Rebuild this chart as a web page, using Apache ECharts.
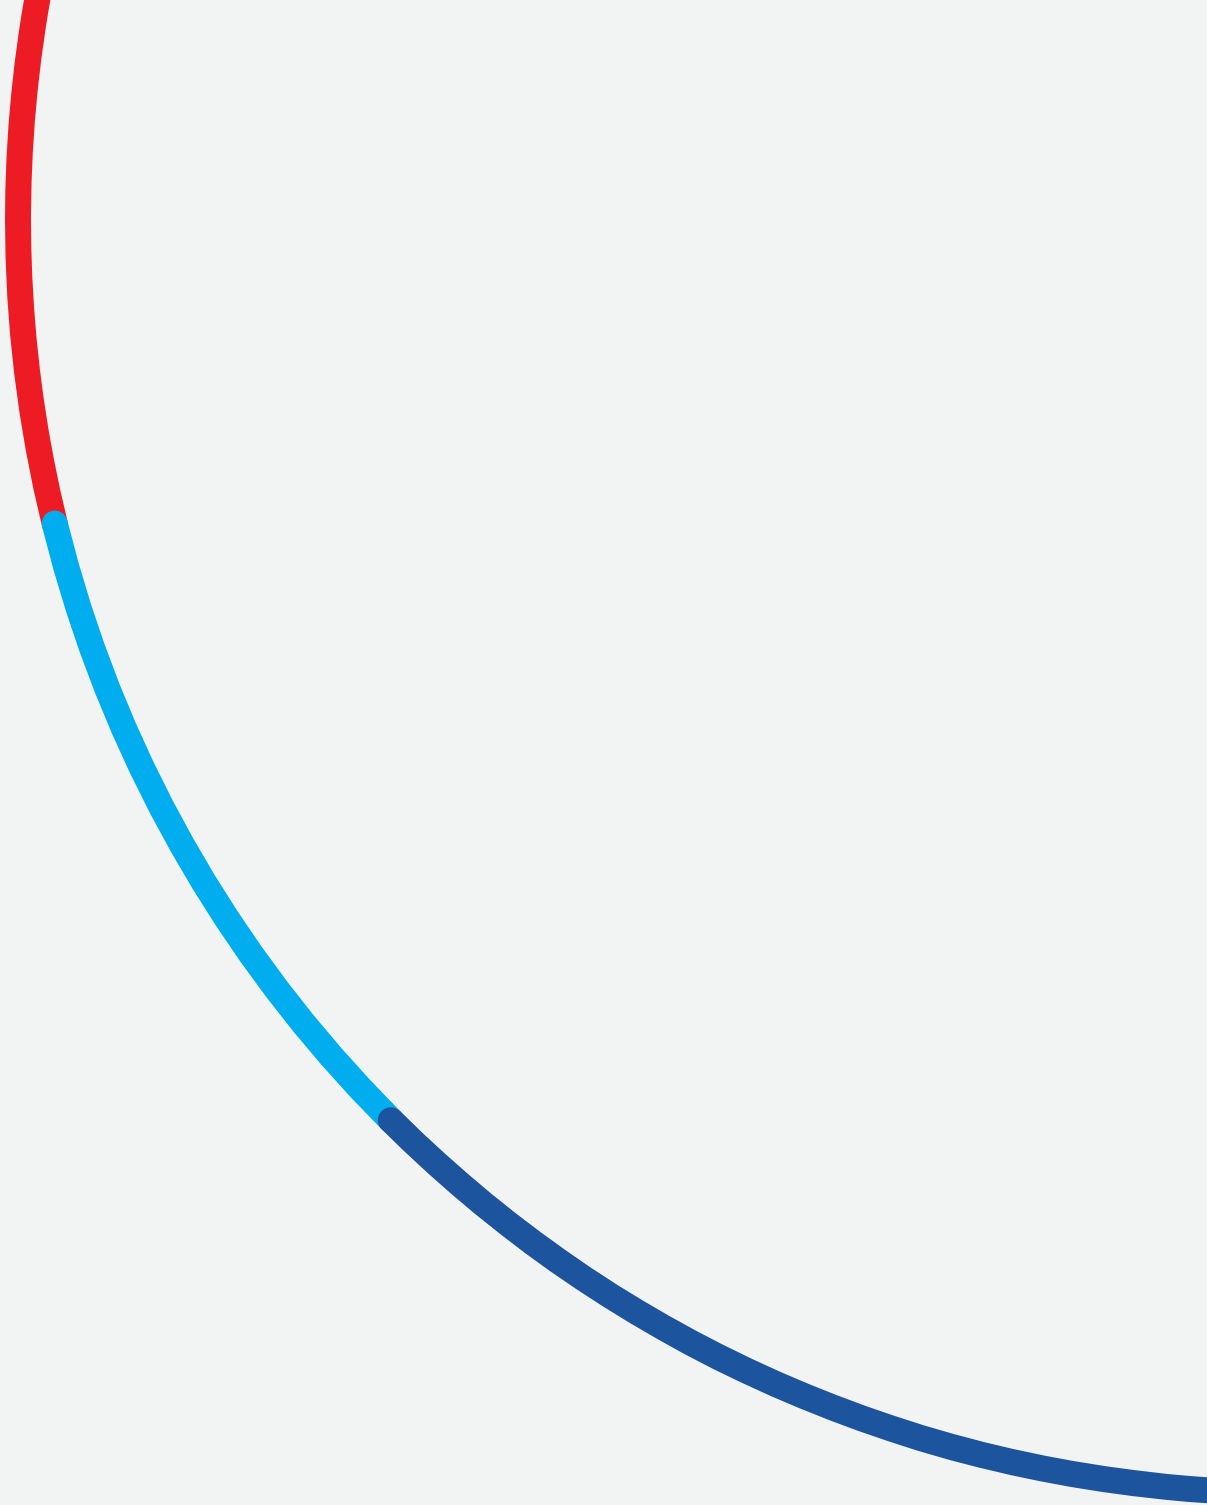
<!DOCTYPE html>
<html>
<head>
<meta charset="utf-8">
<style>
  html, body { margin: 0; padding: 0; background: #F2F4F3; }
  #chart { width: 1207px; height: 1505px; }
</style>
<script src="https://cdn.jsdelivr.net/npm/echarts@6/dist/echarts.min.js"></script>
</head>
<body>
<div id="chart"></div>
<script>
// Arc segments (degrees of sweep along the ring, starting at the top, counter-clockwise)
const segmentNames = ['Red', 'Blue', 'Navy'];
const segmentValues = [103.8, 31.2, 90];
const segmentColors = ['#ED1C24', '#00AEEF', '#1D549E'];
const ringCategories = ['ring'];

const chart = echarts.init(document.getElementById('chart'), null, { renderer: 'canvas' });

const series = segmentNames.map((name, i) => ({
  name: name,
  type: 'bar',
  coordinateSystem: 'polar',
  stack: 'total',
  roundCap: true,
  barWidth: 26,
  data: [segmentValues[i]],
  itemStyle: { color: segmentColors[i] },
  emphasis: { disabled: true },
  silent: true
}));

chart.setOption({
  backgroundColor: '#F2F4F3',
  animation: false,
  polar: {
    center: [1291, 220],
    radius: [1260, 1286]
  },
  angleAxis: {
    type: 'value',
    min: 0,
    max: 360,
    startAngle: 90,
    clockwise: false,
    show: false
  },
  radiusAxis: {
    type: 'category',
    data: ringCategories,
    show: false
  },
  series: series
});
</script>
</body>
</html>
